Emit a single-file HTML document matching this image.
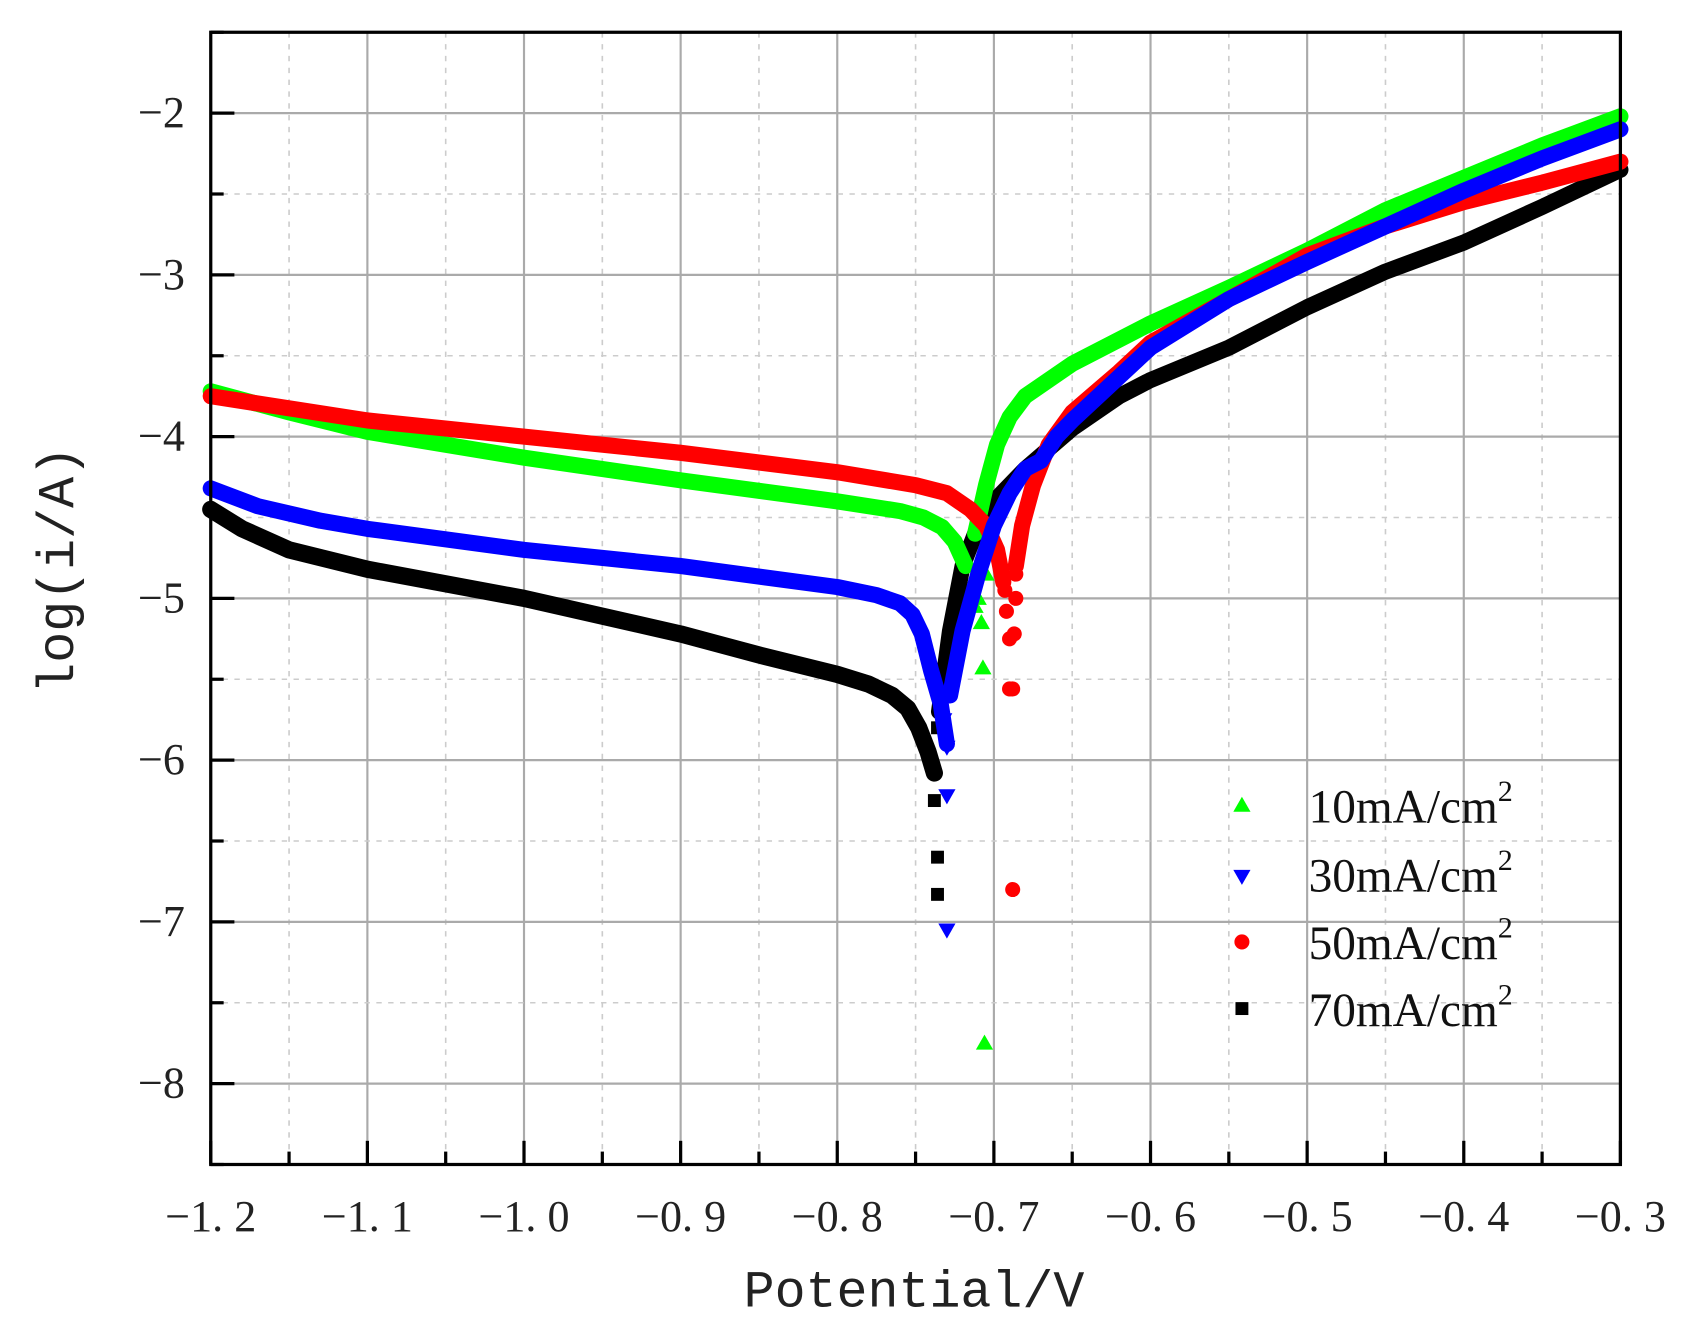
<!DOCTYPE html>
<html><head><meta charset="utf-8"><style>
html,body{margin:0;padding:0;background:#fff;}
svg{display:block;}
</style></head><body>
<svg id="s" width="1686" height="1329" viewBox="0 0 1568 1236" preserveAspectRatio="none" xmlns="http://www.w3.org/2000/svg">
<rect x="0" y="0" width="1568" height="1236" fill="#fff"/>
<g id="grid"></g>
<g id="data"></g>
<rect x="196" y="30" width="1311" height="1053" fill="none" stroke="#000" stroke-width="3"/>
<g id="ticks" stroke="#000" stroke-width="3"></g>
<g id="labels" font-family="Liberation Serif, serif" font-size="41" fill="#222"></g>
<text x="850" y="1215" font-family="Liberation Mono, monospace" font-size="48" text-anchor="middle" fill="#222">Potential/V</text>
<text transform="translate(68,530) rotate(-90)" font-family="Liberation Mono, monospace" font-size="48" text-anchor="middle" fill="#222">log(i/A)</text>
<g font-family="Liberation Serif, serif" font-size="44" fill="#111">
<polygon points="1155,741 1147,755 1163,755" fill="#00ff00"/>
<text x="1217" y="765">10mA/cm<tspan font-size="28" dy="-20">2</tspan></text>
<polygon points="1147,809 1163,809 1155,823" fill="#0000ff"/>
<text x="1217" y="829">30mA/cm<tspan font-size="28" dy="-20">2</tspan></text>
<circle cx="1155" cy="876" r="7" fill="#ff0000"/>
<text x="1217" y="892">50mA/cm<tspan font-size="28" dy="-20">2</tspan></text>
<rect x="1149" y="932" width="12" height="12" fill="#000"/>
<text x="1217" y="954">70mA/cm<tspan font-size="28" dy="-20">2</tspan></text>
</g>
</svg>
<script>
const NS="http://www.w3.org/2000/svg";
const X=x=>196+(x+1.2)/0.9*1311, Y=y=>30+(-1.5-y)*150.43;
function el(p,t,a){const e=document.createElementNS(NS,t);for(const k in a)e.setAttribute(k,a[k]);p.appendChild(e);return e;}
const g=document.getElementById('grid'),tk=document.getElementById('ticks'),lb=document.getElementById('labels'),d=document.getElementById('data');
for(let i=0;i<=18;i++){const x=X(-1.2+i*0.05);if(i%2==0){el(g,'line',{x1:x,y1:30,x2:x,y2:1083,stroke:'#aaa','stroke-width':2});el(tk,'line',{x1:x,y1:1083,x2:x,y2:1061});
const v=(-1.2+i*0.05);el(lb,'text',{x:x,y:1145,'text-anchor':'middle'}).textContent='\u2212'+Math.abs(v).toFixed(1).replace('.','. ');}
else{el(g,'line',{x1:x,y1:30,x2:x,y2:1083,stroke:'#ccc','stroke-width':1.5,'stroke-dasharray':'5,6'});el(tk,'line',{x1:x,y1:1083,x2:x,y2:1071});}}
for(let i=0;i<=14;i++){const v=-1.5-i*0.5,y=Y(v);if(i%2==1){el(g,'line',{x1:196,y1:y,x2:1507,y2:y,stroke:'#aaa','stroke-width':2});el(tk,'line',{x1:196,y1:y,x2:218,y2:y});
el(lb,'text',{x:172,y:y+13,'text-anchor':'end'}).textContent='\u2212'+Math.abs(v);}
else{el(g,'line',{x1:196,y1:y,x2:1507,y2:y,stroke:'#ccc','stroke-width':1.5,'stroke-dasharray':'5,6'});el(tk,'line',{x1:196,y1:y,x2:208,y2:y});}}
function line(pts,c,w){el(d,'polyline',{points:pts.map(p=>X(p[0])+','+Y(p[1])).join(' '),fill:'none',stroke:c,'stroke-width':w||15,'stroke-linejoin':'round','stroke-linecap':'round'});}
function mk(type,c,x,y){const cx=X(x),cy=Y(y);
if(type=='up')el(d,'polygon',{points:`${cx},${cy-8} ${cx-8},${cy+6} ${cx+8},${cy+6}`,fill:c});
else if(type=='down')el(d,'polygon',{points:`${cx-8},${cy-6} ${cx+8},${cy-6} ${cx},${cy+8}`,fill:c});
else if(type=='c')el(d,'circle',{cx:cx,cy:cy,r:7,fill:c});
else el(d,'rect',{x:cx-6,y:cy-6,width:12,height:12,fill:c});}
// black
line([[-1.2,-4.45],[-1.18,-4.57],[-1.15,-4.7],[-1.1,-4.82],[-1.0,-5.0],[-0.9,-5.22],[-0.85,-5.35],[-0.8,-5.47],[-0.78,-5.53],[-0.765,-5.6],[-0.755,-5.68],[-0.748,-5.8],[-0.742,-5.95],[-0.738,-6.08]],'#000',16);
line([[-0.735,-5.7],[-0.728,-5.2],[-0.72,-4.8],[-0.71,-4.55],[-0.7,-4.4],[-0.68,-4.2],[-0.65,-3.95],[-0.62,-3.75],[-0.6,-3.65],[-0.55,-3.45],[-0.5,-3.2],[-0.45,-2.98],[-0.4,-2.8],[-0.35,-2.58],[-0.3,-2.35]],'#000',15);
[[-0.738,-6.25],[-0.736,-6.6],[-0.736,-6.83],[-0.736,-5.8]].forEach(p=>mk('s','#000',p[0],p[1]));
// green
line([[-1.2,-3.72],[-1.15,-3.85],[-1.1,-3.97],[-1.0,-4.13],[-0.9,-4.27],[-0.8,-4.4],[-0.76,-4.46],[-0.745,-4.5],[-0.733,-4.56],[-0.725,-4.65],[-0.718,-4.8]],'#00ff00');
line([[-0.712,-4.6],[-0.705,-4.3],[-0.698,-4.05],[-0.69,-3.88],[-0.68,-3.75],[-0.65,-3.55],[-0.6,-3.3],[-0.55,-3.08],[-0.5,-2.85],[-0.45,-2.6],[-0.4,-2.4],[-0.35,-2.2],[-0.3,-2.02]],'#00ff00');
[[-0.71,-5.0],[-0.708,-5.15],[-0.707,-5.43],[-0.705,-4.85],[-0.712,-5.05],[-0.706,-7.75]].forEach(p=>mk('up','#00ff00',p[0],p[1]));
// red
line([[-1.2,-3.75],[-1.1,-3.9],[-1.0,-4.0],[-0.9,-4.1],[-0.8,-4.22],[-0.75,-4.3],[-0.73,-4.35],[-0.715,-4.45],[-0.705,-4.55],[-0.698,-4.7],[-0.694,-4.9]],'#ff0000');
line([[-0.686,-4.8],[-0.682,-4.55],[-0.675,-4.3],[-0.665,-4.05],[-0.65,-3.85],[-0.62,-3.6],[-0.6,-3.42],[-0.55,-3.15],[-0.5,-2.88],[-0.45,-2.7],[-0.4,-2.55],[-0.35,-2.43],[-0.3,-2.3]],'#ff0000');
[[-0.692,-5.08],[-0.686,-5.0],[-0.69,-5.25],[-0.687,-5.22],[-0.69,-5.56],[-0.688,-5.56],[-0.688,-6.8],[-0.686,-4.85],[-0.693,-4.95]].forEach(p=>mk('c','#ff0000',p[0],p[1]));
// blue
line([[-1.2,-4.32],[-1.17,-4.43],[-1.13,-4.52],[-1.1,-4.57],[-1.0,-4.7],[-0.9,-4.8],[-0.8,-4.93],[-0.775,-4.98],[-0.76,-5.03],[-0.752,-5.1],[-0.746,-5.22],[-0.74,-5.45],[-0.734,-5.65],[-0.73,-5.9]],'#0000ff');
line([[-0.728,-5.6],[-0.72,-5.2],[-0.71,-4.85],[-0.7,-4.55],[-0.69,-4.35],[-0.68,-4.2],[-0.67,-4.15],[-0.66,-4.0],[-0.65,-3.9],[-0.6,-3.45],[-0.55,-3.15],[-0.5,-2.92],[-0.45,-2.7],[-0.4,-2.48],[-0.35,-2.28],[-0.3,-2.1]],'#0000ff');
[[-0.73,-6.22],[-0.73,-7.05],[-0.732,-5.75],[-0.73,-5.92]].forEach(p=>mk('down','#0000ff',p[0],p[1]));
</script>
</body></html>
